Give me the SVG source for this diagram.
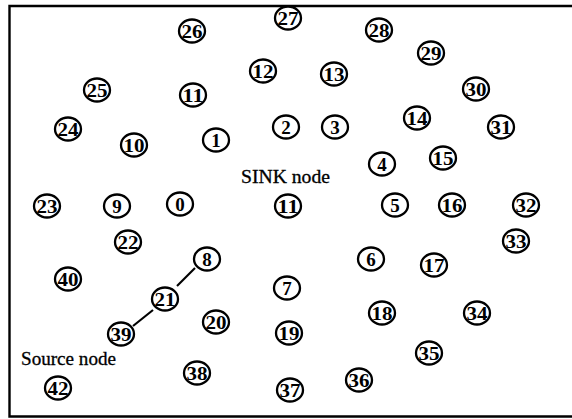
<svg xmlns="http://www.w3.org/2000/svg" width="572" height="419" viewBox="0 0 572 419">
<style>
.n ellipse{fill:#fff;stroke:#000;stroke-width:2.3}
.n text{font-family:"Liberation Serif","Times New Roman",serif;font-size:19px;text-anchor:middle;fill:#000;font-weight:bold}
.lbl{font-family:"Liberation Serif","Times New Roman",serif;font-size:18px;fill:#000;stroke:#000;stroke-width:0.3}
.edge{stroke:#000;stroke-width:2.2}
</style>
<rect x="0" y="0" width="572" height="419" fill="#fff"/>
<g id="frame" fill="none" stroke="#000" stroke-width="2.4">
<polyline points="572,6 9.5,6 9.5,416.5 572,416.5"/>
</g>
<g id="connectors">
<line class="edge" x1="195" y1="268" x2="177" y2="286"/>
<line class="edge" x1="153" y1="310" x2="133" y2="326"/>
</g>
<text class="lbl" x="241" y="183" textLength="89" lengthAdjust="spacingAndGlyphs">SINK node</text>
<text class="lbl" x="21" y="365" textLength="95" lengthAdjust="spacingAndGlyphs">Source node</text>
<g id="n26" class="n"><ellipse cx="192" cy="31" rx="13" ry="11.5"/><text x="192" y="37.5" textLength="21" lengthAdjust="spacingAndGlyphs">26</text></g>
<g id="n27" class="n"><ellipse cx="288" cy="18" rx="13" ry="11.5"/><text x="288" y="24.5" textLength="21" lengthAdjust="spacingAndGlyphs">27</text></g>
<g id="n28" class="n"><ellipse cx="379" cy="30" rx="13" ry="11.5"/><text x="379" y="36.5" textLength="21" lengthAdjust="spacingAndGlyphs">28</text></g>
<g id="n29" class="n"><ellipse cx="431" cy="53" rx="13" ry="11.5"/><text x="431" y="59.5" textLength="21" lengthAdjust="spacingAndGlyphs">29</text></g>
<g id="n30" class="n"><ellipse cx="476" cy="89" rx="13" ry="11.5"/><text x="476" y="95.5" textLength="21" lengthAdjust="spacingAndGlyphs">30</text></g>
<g id="n31" class="n"><ellipse cx="501" cy="127" rx="13" ry="11.5"/><text x="501" y="133.5" textLength="21" lengthAdjust="spacingAndGlyphs">31</text></g>
<g id="n12" class="n"><ellipse cx="263" cy="71" rx="13" ry="11.5"/><text x="263" y="77.5" textLength="21" lengthAdjust="spacingAndGlyphs">12</text></g>
<g id="n13" class="n"><ellipse cx="334" cy="74" rx="13" ry="11.5"/><text x="334" y="80.5" textLength="21" lengthAdjust="spacingAndGlyphs">13</text></g>
<g id="n25" class="n"><ellipse cx="97" cy="90" rx="13" ry="11.5"/><text x="97" y="96.5" textLength="21" lengthAdjust="spacingAndGlyphs">25</text></g>
<g id="n11a" class="n"><ellipse cx="193" cy="95" rx="13" ry="11.5"/><text x="193" y="101.5" textLength="21" lengthAdjust="spacingAndGlyphs">11</text></g>
<g id="n24" class="n"><ellipse cx="68" cy="129" rx="13" ry="11.5"/><text x="68" y="135.5" textLength="21" lengthAdjust="spacingAndGlyphs">24</text></g>
<g id="n10" class="n"><ellipse cx="134" cy="145" rx="13" ry="11.5"/><text x="134" y="151.5" textLength="21" lengthAdjust="spacingAndGlyphs">10</text></g>
<g id="n1" class="n"><ellipse cx="216" cy="140" rx="13" ry="11.5"/><text x="216" y="146.5">1</text></g>
<g id="n2" class="n"><ellipse cx="286" cy="127" rx="13" ry="11.5"/><text x="286" y="133.5">2</text></g>
<g id="n3" class="n"><ellipse cx="335" cy="127" rx="13" ry="11.5"/><text x="335" y="133.5">3</text></g>
<g id="n14" class="n"><ellipse cx="417" cy="118" rx="13" ry="11.5"/><text x="417" y="124.5" textLength="21" lengthAdjust="spacingAndGlyphs">14</text></g>
<g id="n15" class="n"><ellipse cx="443" cy="158" rx="13" ry="11.5"/><text x="443" y="164.5" textLength="21" lengthAdjust="spacingAndGlyphs">15</text></g>
<g id="n4" class="n"><ellipse cx="382" cy="164" rx="13" ry="11.5"/><text x="382" y="170.5">4</text></g>
<g id="n23" class="n"><ellipse cx="47" cy="206" rx="13" ry="11.5"/><text x="47" y="212.5" textLength="21" lengthAdjust="spacingAndGlyphs">23</text></g>
<g id="n9" class="n"><ellipse cx="117" cy="206" rx="13" ry="11.5"/><text x="117" y="212.5">9</text></g>
<g id="n0" class="n"><ellipse cx="180" cy="204" rx="13" ry="11.5"/><text x="180" y="210.5">0</text></g>
<g id="n11b" class="n"><ellipse cx="288" cy="206" rx="13" ry="11.5"/><text x="288" y="212.5" textLength="21" lengthAdjust="spacingAndGlyphs">11</text></g>
<g id="n5" class="n"><ellipse cx="395" cy="205" rx="13" ry="11.5"/><text x="395" y="211.5">5</text></g>
<g id="n16" class="n"><ellipse cx="452" cy="205" rx="13" ry="11.5"/><text x="452" y="211.5" textLength="21" lengthAdjust="spacingAndGlyphs">16</text></g>
<g id="n32" class="n"><ellipse cx="526" cy="205" rx="13" ry="11.5"/><text x="526" y="211.5" textLength="21" lengthAdjust="spacingAndGlyphs">32</text></g>
<g id="n33" class="n"><ellipse cx="516" cy="241" rx="13" ry="11.5"/><text x="516" y="247.5" textLength="21" lengthAdjust="spacingAndGlyphs">33</text></g>
<g id="n22" class="n"><ellipse cx="128" cy="242" rx="13" ry="11.5"/><text x="128" y="248.5" textLength="21" lengthAdjust="spacingAndGlyphs">22</text></g>
<g id="n8" class="n"><ellipse cx="207" cy="259" rx="13" ry="11.5"/><text x="207" y="265.5">8</text></g>
<g id="n40" class="n"><ellipse cx="68" cy="279" rx="13" ry="11.5"/><text x="68" y="285.5" textLength="21" lengthAdjust="spacingAndGlyphs">40</text></g>
<g id="n21" class="n"><ellipse cx="165" cy="299" rx="13" ry="11.5"/><text x="165" y="305.5" textLength="21" lengthAdjust="spacingAndGlyphs">21</text></g>
<g id="n7" class="n"><ellipse cx="287" cy="288" rx="13" ry="11.5"/><text x="287" y="294.5">7</text></g>
<g id="n6" class="n"><ellipse cx="371" cy="259" rx="13" ry="11.5"/><text x="371" y="265.5">6</text></g>
<g id="n17" class="n"><ellipse cx="434" cy="265" rx="13" ry="11.5"/><text x="434" y="271.5" textLength="21" lengthAdjust="spacingAndGlyphs">17</text></g>
<g id="n20" class="n"><ellipse cx="216" cy="322" rx="13" ry="11.5"/><text x="216" y="328.5" textLength="21" lengthAdjust="spacingAndGlyphs">20</text></g>
<g id="n18" class="n"><ellipse cx="382" cy="313" rx="13" ry="11.5"/><text x="382" y="319.5" textLength="21" lengthAdjust="spacingAndGlyphs">18</text></g>
<g id="n34" class="n"><ellipse cx="477" cy="313" rx="13" ry="11.5"/><text x="477" y="319.5" textLength="21" lengthAdjust="spacingAndGlyphs">34</text></g>
<g id="n19" class="n"><ellipse cx="289" cy="333" rx="13" ry="11.5"/><text x="289" y="339.5" textLength="21" lengthAdjust="spacingAndGlyphs">19</text></g>
<g id="n39" class="n"><ellipse cx="121" cy="334" rx="13" ry="11.5"/><text x="121" y="340.5" textLength="21" lengthAdjust="spacingAndGlyphs">39</text></g>
<g id="n35" class="n"><ellipse cx="429" cy="353" rx="13" ry="11.5"/><text x="429" y="359.5" textLength="21" lengthAdjust="spacingAndGlyphs">35</text></g>
<g id="n42" class="n"><ellipse cx="58" cy="388" rx="13" ry="11.5"/><text x="58" y="394.5" textLength="21" lengthAdjust="spacingAndGlyphs">42</text></g>
<g id="n38" class="n"><ellipse cx="197" cy="373" rx="13" ry="11.5"/><text x="197" y="379.5" textLength="21" lengthAdjust="spacingAndGlyphs">38</text></g>
<g id="n36" class="n"><ellipse cx="359" cy="380" rx="13" ry="11.5"/><text x="359" y="386.5" textLength="21" lengthAdjust="spacingAndGlyphs">36</text></g>
<g id="n37" class="n"><ellipse cx="290" cy="390" rx="13" ry="11.5"/><text x="290" y="396.5" textLength="21" lengthAdjust="spacingAndGlyphs">37</text></g>
</svg>
